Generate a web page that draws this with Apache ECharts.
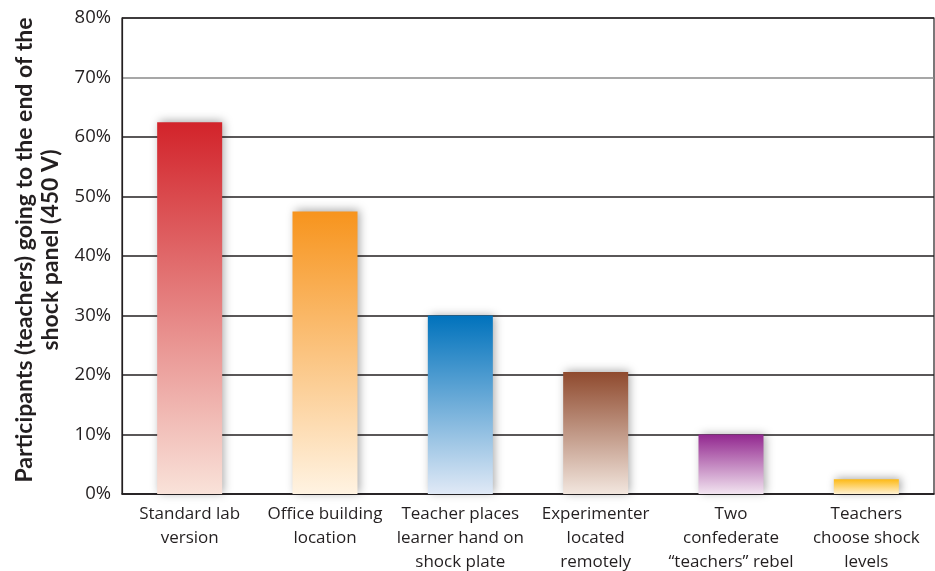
<!DOCTYPE html>
<html>
<head>
<meta charset="utf-8">
<script src="https://cdn.jsdelivr.net/npm/echarts@6/dist/echarts.min.js"></script>
<style>
  html, body { margin: 0; padding: 0; background: #fff; }
  #chart { width: 935px; height: 571px; }
</style>
</head>
<body>
<div id="chart"></div>
<script>
// Milgram obedience variations: share of participants reaching 450 V
const categories = [
  'Standard lab\nversion',
  'Office building\nlocation',
  'Teacher places\nlearner hand on\nshock plate',
  'Experimenter\nlocated\nremotely',
  'Two\nconfederate\n\u201cteachers\u201d rebel',
  'Teachers\nchoose shock\nlevels'
];
const percentages = [62.5, 47.5, 30, 20.5, 10, 2.5];
const topColors = ['#d2232a', '#f7941d', '#0072bc', '#8f4a2e', '#92278f', '#fdb913'];
const bottomColors = ['#f9e2d9', '#fff3e2', '#e0e9f6', '#f2e6de', '#f2e4f0', '#fff1d2'];
const yTicks = [0, 10, 20, 30, 40, 50, 60, 70, 80];

const ink = '#231f20';
const font = '"Open Sans", "Noto Sans", sans-serif';
const titleFont = 'Lato, "Open Sans", sans-serif';

const chart = echarts.init(document.getElementById('chart'), null, { renderer: 'canvas' });

const barData = percentages.map((v, i) => ({
  value: v,
  itemStyle: {
    color: new echarts.graphic.LinearGradient(0, 0, 0, 1, [
      { offset: 0, color: topColors[i] },
      { offset: 1, color: bottomColors[i] }
    ]),
    shadowColor: 'rgba(0,0,0,0.35)',
    shadowBlur: 9,
    shadowOffsetX: 2,
    shadowOffsetY: -1
  }
}));

// grey line for the 70% level, dark for the rest
const splitColors = yTicks.map(t => (t === 70 ? '#8a8a8a' : ink));

chart.setOption({
  animation: false,
  backgroundColor: '#ffffff',
  grid: {
    left: 122, right: 1, top: 18, bottom: 77,
    outerBoundsMode: 'none',
    containLabel: false,
    show: true, borderColor: ink, borderWidth: 1.2, backgroundColor: 'transparent'
  },
  xAxis: {
    type: 'category',
    data: categories,
    axisLine: { show: true, lineStyle: { color: ink, width: 1.5 } },
    axisTick: { show: false },
    axisLabel: {
      interval: 0,
      margin: 8,
      color: ink,
      fontFamily: font,
      fontSize: 17,
      lineHeight: 24
    }
  },
  yAxis: {
    type: 'value',
    min: 0,
    max: 80,
    interval: 10,
    name: 'Participants (teachers) going to the end of the\nshock panel (450 V)',
    nameLocation: 'middle',
    nameGap: 54,
    nameTextStyle: {
      color: ink,
      fontFamily: titleFont,
      fontWeight: 'bold',
      fontSize: 23,
      lineHeight: 26,
      padding: [0, 0, 0, 12]
    },
    axisLine: { show: true, lineStyle: { color: ink, width: 1.2 } },
    axisTick: { show: false },
    axisLabel: {
      color: ink,
      fontFamily: font,
      fontSize: 18.5,
      margin: 11,
      formatter: v => v + '%'
    },
    splitLine: { show: true, lineStyle: { color: splitColors, width: 1.6 } }
  },
  series: [{
    type: 'bar',
    data: barData,
    barWidth: 65,
    z: 3
  }]
});
</script>
</body>
</html>
